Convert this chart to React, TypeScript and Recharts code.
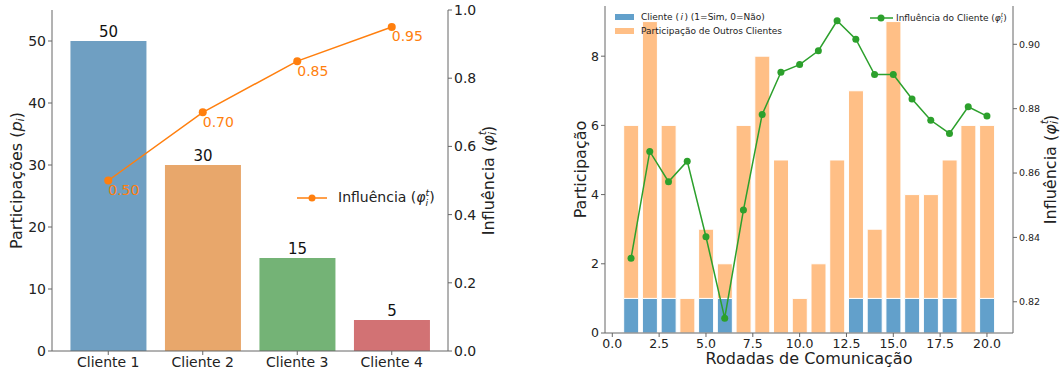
import React from "react";
import {
  ComposedChart, Bar, Line, XAxis, YAxis, Cell, LabelList, Legend, Label,
} from "recharts";

const FONT = "DejaVu Sans, Verdana, sans-serif";
const AXIS = "#666";
const TXT = "#222";

// painel esquerdo
const clientes = ["Cliente 1", "Cliente 2", "Cliente 3", "Cliente 4"];
const participacoes = [50, 30, 15, 5];
const influencias = [0.5, 0.7, 0.85, 0.95];
const coresClientes = ["#6f9fc2", "#e8a76b", "#74b376", "#d27274"];
const ticksParticipacoes = [0, 10, 20, 30, 40, 50];
const ticksInfluencia = [0, 0.2, 0.4, 0.6, 0.8, 1.0];

// painel direito
const rodadas = [1, 2, 3, 4, 5, 6, 7, 8, 9, 10, 11, 12, 13, 14, 15, 16, 17, 18, 19, 20];
const clienteParticipou = [1, 1, 1, 0, 1, 1, 0, 0, 0, 0, 0, 0, 1, 1, 1, 1, 1, 1, 0, 1];
const outrosClientes = [5, 8, 5, 1, 2, 1, 6, 8, 5, 1, 2, 5, 6, 2, 8, 3, 3, 4, 6, 5];
const influenciaCliente = [
  0.8335, 0.8667, 0.8573, 0.8637, 0.8402, 0.8149, 0.8485, 0.8782, 0.8913, 0.8937,
  0.898, 0.9073, 0.9016, 0.8906, 0.8906, 0.883, 0.8764, 0.8723, 0.8806, 0.8777,
];
const ticksRodadas = [0, 2.5, 5, 7.5, 10, 12.5, 15, 17.5, 20];
const ticksPart = [0, 2, 4, 6, 8];
const ticksInfCliente = [0.82, 0.84, 0.86, 0.88, 0.9];

const dadosClientes = clientes.map((c, i) => ({
  cliente: c, participacoes: participacoes[i], influencia: influencias[i],
}));

const dadosRodadas = rodadas.map((r, i) => ({
  rodada: r, cliente: clienteParticipou[i], outros: outrosClientes[i], influencia: influenciaCliente[i],
}));

// phi com t sobrescrito e i subscrito (svg)
function PhiSvg({ size }: { size: number }) {
  const s = size * 0.68;
  return (
    <>
      <tspan fontStyle="italic">φ</tspan>
      <tspan fontSize={s} fontStyle="italic" dy={-size * 0.38}>t</tspan>
      <tspan fontSize={s} fontStyle="italic" dx={-s * 0.38} dy={size * 0.62}>i</tspan>
      <tspan dy={-size * 0.24}>)</tspan>
    </>
  );
}

function PhiHtml({ size }: { size: number }) {
  return (
    <>
      <i>φ</i>
      <span style={{ display: "inline-flex", flexDirection: "column", fontSize: size * 0.68, lineHeight: 1, verticalAlign: "middle", fontStyle: "italic" }}>
        <span>t</span>
        <span>i</span>
      </span>
      )
    </>
  );
}

function tituloY(kind: string, dx: number, size: number) {
  return (props: any) => {
    const { x, y, height } = props.viewBox;
    const cx = x + dx;
    const cy = y + height / 2;
    return (
      <text x={cx} y={cy} transform={`rotate(-90 ${cx} ${cy})`} textAnchor="middle" dominantBaseline="central"
        fontSize={size} fill={TXT} fontFamily={FONT}>
        {kind === "p" && (<><tspan>Participações (</tspan><tspan fontStyle="italic">p</tspan><tspan fontSize={size * 0.7} fontStyle="italic" dy={size * 0.25}>i</tspan><tspan dy={-size * 0.25}>)</tspan></>)}
        {kind === "phi" && (<><tspan>Influência (</tspan><PhiSvg size={size} /></>)}
        {kind === "part" && <tspan>Participação</tspan>}
      </text>
    );
  };
}

function rotuloInfluencia(props: any) {
  const { x, y, value } = props;
  return (
    <text x={x} y={y + 4} dominantBaseline="hanging" fontSize={14} fill="#ff7f0e" fontFamily={FONT}>
      {Number(value).toFixed(2)}
    </text>
  );
}

function LegendaEsquerda() {
  return (
    <div style={{ display: "flex", alignItems: "center", fontFamily: FONT, fontSize: 14, color: TXT }}>
      <svg width={34} height={12} style={{ marginRight: 8 }}>
        <line x1={1} y1={6} x2={31} y2={6} stroke="#ff7f0e" strokeWidth={1.5} />
        <circle cx={16} cy={6} r={3.5} fill="#ff7f0e" />
      </svg>
      <span>Influência (<PhiHtml size={14} /></span>
    </div>
  );
}

function LegendaDireita() {
  const patch = (cor: string) => (
    <span style={{ display: "inline-block", width: 19, height: 6, background: cor, marginRight: 7 }} />
  );
  return (
    <div style={{ position: "relative", width: 533, height: 40, fontFamily: FONT, fontSize: 9, color: TXT }}>
      <div style={{ position: "absolute", left: 85, top: 12, display: "flex", alignItems: "center" }}>
        {patch("#62a0cb")}<span>Cliente (<i style={{ margin: "0 1.5px" }}>i</i>) (1=Sim, 0=Não)</span>
      </div>
      <div style={{ position: "absolute", left: 85, top: 26, display: "flex", alignItems: "center" }}>
        {patch("#ffbf86")}<span>Participação de Outros Clientes</span>
      </div>
      <div style={{ position: "absolute", left: 339, top: 12, display: "flex", alignItems: "center" }}>
        <svg width={25} height={10} style={{ marginRight: 2 }}>
          <line x1={1} y1={5} x2={24} y2={5} stroke="#2ca02c" strokeWidth={1.5} />
          <circle cx={12} cy={5} r={3.5} fill="#2ca02c" />
        </svg>
        <span>Influência do Cliente (<PhiHtml size={9} /></span>
      </div>
    </div>
  );
}

const tickEsq = { fontSize: 14, fill: TXT, fontFamily: FONT };
const tickDir = { fontSize: 12.5, fill: TXT, fontFamily: FONT };

export default function App() {
  return (
    <div style={{ position: "absolute", left: 0, top: 0, width: 1063, height: 376, background: "#fff" }}>
      <div style={{ position: "absolute", left: 0, top: 0 }}>
        <ComposedChart width={500} height={376} data={dadosClientes} barCategoryGap="10%"
          margin={{ top: 10, right: 12, bottom: 5, left: 12 }}>
          <XAxis dataKey="cliente" padding={{ left: 9, right: 9 }} interval={0} height={20} tickSize={4}
            tick={tickEsq} axisLine={{ stroke: AXIS }} tickLine={{ stroke: AXIS }} />
          <XAxis xAxisId="top" orientation="top" dataKey="cliente" height={0} tick={false} tickLine={false}
            axisLine={{ stroke: AXIS }} />
          <YAxis yAxisId="p" domain={[0, 55]} ticks={ticksParticipacoes} width={40} tickSize={4}
            tick={tickEsq} axisLine={{ stroke: AXIS }} tickLine={{ stroke: AXIS }}>
            <Label content={tituloY("p", 4, 16)} />
          </YAxis>
          <YAxis yAxisId="inf" orientation="right" domain={[0, 1]} ticks={ticksInfluencia} width={40} tickSize={4}
            tickFormatter={(v: number) => v.toFixed(1)} tick={tickEsq} axisLine={{ stroke: AXIS }} tickLine={{ stroke: AXIS }}>
            <Label content={tituloY("phi", 40, 16)} />
          </YAxis>
          <Bar yAxisId="p" dataKey="participacoes" isAnimationActive={false}>
            {dadosClientes.map((d, i) => <Cell key={d.cliente} fill={coresClientes[i]} />)}
            <LabelList dataKey="participacoes" position="top" offset={4} fontSize={15} fill="#111" fontFamily={FONT} />
          </Bar>
          <Line yAxisId="inf" dataKey="influencia" stroke="#ff7f0e" strokeWidth={1.5} isAnimationActive={false}
            dot={{ r: 4, fill: "#ff7f0e", stroke: "#ff7f0e", strokeWidth: 0 }}>
            <LabelList dataKey="influencia" content={rotuloInfluencia} />
          </Line>
          <Legend layout="horizontal" verticalAlign="middle" align="center" content={() => <LegendaEsquerda />}
            wrapperStyle={{ left: 296, top: 188, width: "auto" }} />
        </ComposedChart>
      </div>

      <div style={{ position: "absolute", left: 530, top: 0 }}>
        <ComposedChart width={533} height={376} data={dadosRodadas}
          margin={{ top: 6, right: 10, bottom: 8, left: 35 }}>
          <XAxis dataKey="rodada" type="number" domain={[-0.39, 21.39]} ticks={ticksRodadas} allowDataOverflow
            tickFormatter={(v: number) => v.toFixed(1)} height={35} tickSize={4} tick={tickDir}
            axisLine={{ stroke: AXIS }} tickLine={{ stroke: AXIS }}>
            <Label value="Rodadas de Comunicação" position="insideBottom" offset={4} fontSize={16} fill={TXT} fontFamily={FONT} />
          </XAxis>
          <XAxis xAxisId="top" orientation="top" dataKey="rodada" type="number" domain={[-0.39, 21.39]} allowDataOverflow
            height={0} tick={false} tickLine={false} axisLine={{ stroke: AXIS }} />
          <YAxis yAxisId="p" domain={[0, 9.45]} ticks={ticksPart} allowDataOverflow width={40} tickSize={4}
            tick={tickDir} axisLine={{ stroke: AXIS }} tickLine={{ stroke: AXIS }}>
            <Label content={tituloY("part", 15, 16)} />
          </YAxis>
          <YAxis yAxisId="inf" orientation="right" domain={[0.8103, 0.9119]} ticks={ticksInfCliente} allowDataOverflow
            width={40} tickSize={4} tickFormatter={(v: number) => v.toFixed(2)}
            tick={{ fontSize: 9.5, fill: TXT, fontFamily: FONT }} axisLine={{ stroke: AXIS }} tickLine={{ stroke: AXIS }}>
            <Label content={tituloY("phi", 37, 16)} />
          </YAxis>
          <Bar yAxisId="p" stackId="s" dataKey="cliente" fill="#62a0cb" barSize={15} stroke="#fff" strokeWidth={1}
            isAnimationActive={false} />
          <Bar yAxisId="p" stackId="s" dataKey="outros" fill="#ffbf86" barSize={15} stroke="#fff" strokeWidth={1}
            isAnimationActive={false} />
          <Line yAxisId="inf" dataKey="influencia" stroke="#2ca02c" strokeWidth={1.5} isAnimationActive={false}
            dot={{ r: 3.5, fill: "#2ca02c", stroke: "#2ca02c", strokeWidth: 0 }} />
          <Legend layout="horizontal" verticalAlign="middle" align="center" content={() => <LegendaDireita />}
            wrapperStyle={{ left: 0, top: 0, width: 533 }} />
        </ComposedChart>
      </div>
    </div>
  );
}
